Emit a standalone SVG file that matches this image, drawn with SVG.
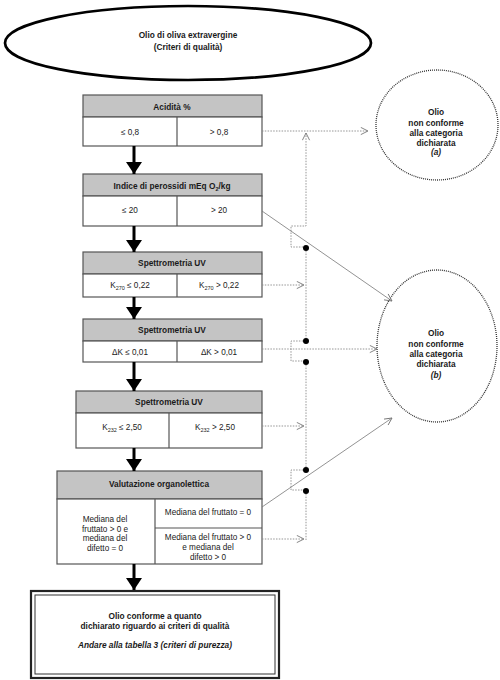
<svg xmlns="http://www.w3.org/2000/svg" width="500" height="680" viewBox="0 0 500 680">
<defs>
<style>
text{font-family:"Liberation Sans",Arial,sans-serif;fill:#1a1a1a;text-anchor:middle}
.h{font-weight:bold;font-size:8.3px}
.r{font-size:8.2px}
.c{font-weight:bold;font-size:8.3px}
.box{fill:#fff;stroke:#555;stroke-width:1.2}
.hd{fill:#c4c4c4;stroke:#555;stroke-width:1.2}
.dv{stroke:#555;stroke-width:1.2;fill:none}
.dot{fill:none;stroke:#8a8a8a;stroke-width:0.9;stroke-dasharray:1.5 1.3}
.sol{fill:none;stroke:#777;stroke-width:0.8}
.big{stroke:#000;stroke-width:3;fill:none}
</style>
<marker id="oa" viewBox="0 0 10 10" refX="9" refY="5" markerWidth="9" markerHeight="9" markerUnits="userSpaceOnUse" orient="auto">
<path d="M1,1 L9,5 L1,9" fill="none" stroke="#777" stroke-width="1"/>
</marker>
<marker id="ta" viewBox="0 0 16 12" refX="8" refY="12" markerWidth="16" markerHeight="12" markerUnits="userSpaceOnUse" orient="0">
<path d="M0,0 L16,0 L8,12 Z" fill="#000"/>
</marker>
</defs>

<g id="start">
<ellipse cx="188" cy="43" rx="183" ry="37" fill="#fff" stroke="#000" stroke-width="2.7"/>
<text class="c" x="188" y="38">Olio di oliva extravergine</text>
<text class="c" x="188" y="50">(Criteri di qualità)</text>
</g>

<g id="acidita">
<rect class="hd" x="83" y="95" width="179" height="22"/>
<rect class="box" x="83" y="117" width="179" height="29"/>
<line class="dv" x1="177" y1="117" x2="177" y2="146"/>
<text class="h" x="172" y="110">Acidità %</text>
<text class="r" x="130" y="135">≤ 0,8</text>
<text class="r" x="219" y="135">&gt; 0,8</text>
</g>

<g id="perossidi">
<rect class="hd" x="83" y="174" width="179" height="22"/>
<rect class="box" x="83" y="196" width="179" height="30"/>
<line class="dv" x1="177" y1="196" x2="177" y2="226"/>
<text class="h" x="172" y="189">Indice di perossidi mEq O<tspan font-size="5.5" dy="2">2</tspan><tspan dy="-2">/kg</tspan></text>
<text class="r" x="130" y="213">≤ 20</text>
<text class="r" x="219" y="213">&gt; 20</text>
</g>

<g id="k270">
<rect class="hd" x="83" y="252" width="179" height="22"/>
<rect class="box" x="83" y="274" width="179" height="23"/>
<line class="dv" x1="177" y1="274" x2="177" y2="297"/>
<text class="h" x="172" y="266">Spettrometria UV</text>
<text class="r" x="130" y="288">K<tspan font-size="5.5" dy="2">270</tspan><tspan dy="-2"> ≤ 0,22</tspan></text>
<text class="r" x="219" y="288">K<tspan font-size="5.5" dy="2">270</tspan><tspan dy="-2"> &gt; 0,22</tspan></text>
</g>

<g id="deltak">
<rect class="hd" x="83" y="319" width="179" height="22"/>
<rect class="box" x="83" y="341" width="179" height="21"/>
<line class="dv" x1="177" y1="341" x2="177" y2="362"/>
<text class="h" x="172" y="333">Spettrometria UV</text>
<text class="r" x="130" y="355">ΔK ≤ 0,01</text>
<text class="r" x="219" y="355">ΔK &gt; 0,01</text>
</g>

<g id="k232">
<rect class="hd" x="76" y="391" width="186" height="22"/>
<rect class="box" x="76" y="413" width="186" height="35"/>
<line class="dv" x1="169" y1="413" x2="169" y2="448"/>
<text class="h" x="169" y="405">Spettrometria UV</text>
<text class="r" x="122" y="430">K<tspan font-size="5.5" dy="2">232</tspan><tspan dy="-2"> ≤ 2,50</tspan></text>
<text class="r" x="215" y="430">K<tspan font-size="5.5" dy="2">232</tspan><tspan dy="-2"> &gt; 2,50</tspan></text>
</g>

<g id="organolettica">
<rect class="hd" x="57" y="471" width="205" height="28"/>
<rect class="box" x="57" y="499" width="205" height="65"/>
<line class="dv" x1="155" y1="499" x2="155" y2="564"/>
<line class="dv" x1="155" y1="528" x2="262" y2="528"/>
<text class="h" x="159" y="487">Valutazione organolettica</text>
<text class="r" x="105" y="522">Mediana del</text>
<text class="r" x="105" y="531.5">fruttato &gt; 0 e</text>
<text class="r" x="105" y="541">mediana del</text>
<text class="r" x="105" y="551">difetto = 0</text>
<text class="r" x="208" y="515">Mediana del fruttato = 0</text>
<text class="r" x="208" y="540">Mediana del fruttato &gt; 0</text>
<text class="r" x="208" y="550">e mediana del</text>
<text class="r" x="208" y="560">difetto &gt; 0</text>
</g>

<g id="conforme">
<rect x="31" y="591" width="248" height="87" fill="#fff" stroke="#222" stroke-width="2.2"/>
<rect x="35" y="595" width="240" height="79" fill="none" stroke="#333" stroke-width="1"/>
<text class="c" x="155" y="619">Olio conforme a quanto</text>
<text class="c" x="155" y="629">dichiarato riguardo ai criteri di qualità</text>
<text class="c" x="155" y="648" font-style="italic" font-size="7.4">Andare alla tabella 3 (criteri di purezza)</text>
</g>

<g id="nonconforme-a">
<ellipse cx="437" cy="125" rx="61" ry="55" fill="#fff" stroke="#333" stroke-width="1.3" stroke-dasharray="1 1"/>
<text class="c" x="436" y="115">Olio</text>
<text class="c" x="436" y="125.5">non conforme</text>
<text class="c" x="436" y="136">alla categoria</text>
<text class="c" x="436" y="146">dichiarata</text>
<text class="c" x="436" y="155" font-style="italic" font-size="7">(a)</text>
</g>

<g id="nonconforme-b">
<ellipse cx="437" cy="346" rx="60" ry="76" fill="#fff" stroke="#333" stroke-width="1.3" stroke-dasharray="1 1"/>
<text class="c" x="436" y="336">Olio</text>
<text class="c" x="436" y="346.5">non conforme</text>
<text class="c" x="436" y="357">alla categoria</text>
<text class="c" x="436" y="367">dichiarata</text>
<text class="c" x="436" y="378" font-style="italic" font-size="7">(b)</text>
</g>

<g id="connectors">
<line class="big" x1="134" y1="146" x2="134" y2="174" marker-end="url(#ta)"/>
<line class="big" x1="134" y1="226" x2="134" y2="252" marker-end="url(#ta)"/>
<line class="big" x1="134" y1="297" x2="134" y2="319" marker-end="url(#ta)"/>
<line class="big" x1="134" y1="362" x2="134" y2="391" marker-end="url(#ta)"/>
<line class="big" x1="134" y1="448" x2="134" y2="471" marker-end="url(#ta)"/>
<line class="big" x1="134" y1="564" x2="134" y2="590" marker-end="url(#ta)"/>

<line class="dot" x1="262" y1="131" x2="368" y2="131" marker-end="url(#oa)"/>
<path class="dot" d="M306,247 H291 V226 H306 V133" marker-end="url(#oa)"/>
<path class="dot" d="M306,248 V341"/>
<line class="dot" x1="262" y1="285" x2="304" y2="285" marker-end="url(#oa)"/>
<path class="dot" d="M306,341 H291 V361 H306"/>
<line class="dot" x1="262" y1="349" x2="377" y2="349" marker-end="url(#oa)"/>
<path class="dot" d="M306,362 V470"/>
<line class="dot" x1="262" y1="426" x2="304" y2="426" marker-end="url(#oa)"/>
<path class="dot" d="M306,470 H291 V490 H306"/>
<path class="dot" d="M306,491 V540"/>
<line class="dot" x1="262" y1="539" x2="304" y2="539" marker-end="url(#oa)"/>

<line class="sol" x1="262" y1="211" x2="392" y2="301" marker-end="url(#oa)"/>
<line class="sol" x1="262" y1="507" x2="392" y2="418" marker-end="url(#oa)"/>

<circle cx="306" cy="248" r="3" fill="#000"/>
<circle cx="306" cy="341" r="3" fill="#000"/>
<circle cx="306" cy="362" r="3" fill="#000"/>
<circle cx="306" cy="470" r="3" fill="#000"/>
<circle cx="306" cy="491" r="3" fill="#000"/>
</g>
</svg>
